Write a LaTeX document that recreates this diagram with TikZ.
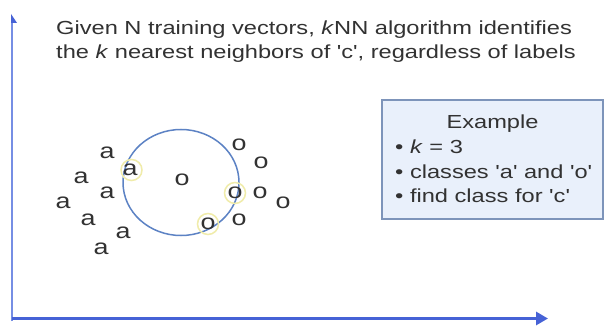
\documentclass[tikz,border=0pt]{standalone}
\usepackage{fontspec}
\newfontfamily\lfont{Liberation Sans}[FakeStretch=1.25]
\usetikzlibrary{arrows.meta,shapes.geometric}
\definecolor{axisblue}{RGB}{70,98,214}
\definecolor{axislight}{RGB}{118,142,228}
\definecolor{ringblue}{RGB}{92,130,196}
\definecolor{txt}{RGB}{50,50,50}
\definecolor{boxfill}{RGB}{233,240,251}
\definecolor{boxline}{RGB}{125,148,186}
\definecolor{hilite}{RGB}{240,236,170}
\begin{document}
\begin{tikzpicture}[x=1pt,y=-1pt,
  ttl/.style={anchor=base west, inner sep=0, font=\lfont\fontsize{18.9}{22}\selectfont, text=txt},
  pnt/.style={inner sep=0, font=\lfont\fontsize{21.5}{24}\selectfont, text=txt},
  hl/.style={draw=hilite, line width=1.5pt, circle, minimum size=21pt, inner sep=0},
  exbox/.style={draw=boxline, fill=boxfill, line width=1.5pt, minimum width=221pt, minimum height=119pt, inner sep=0}]
\useasboundingbox[fill=white] (0,0) rectangle (610,326);
% axes
\coordinate (O) at (12,318.5);
\coordinate (Ybot) at (12,321);
\coordinate (Ytop) at (12,22);
\coordinate (Xend) at (548,318.5);
\draw[axislight, line width=2pt] (Ybot) -- (Ytop);
\fill[axisblue] (11,23) -- (11,14) -- (17,23) -- cycle;
\draw[axisblue, line width=3.3pt, -{Triangle[length=12pt,width=13pt]}] (O) -- (Xend);
% title
\node[ttl] (t1) at (56,34.5) {Given N training vectors, \textit{k}NN algorithm identifies};
\node[ttl] (t2) at (56,59) {the \textit{k} nearest neighbors of 'c', regardless of labels};
% neighbourhood
\node[draw=ringblue, line width=1.5pt, ellipse, minimum width=116pt, minimum height=106pt] (nb) at (181,182.5) {};
\node[hl] (h1) at (131.5,170) {};
\node[hl] (h2) at (235,193) {};
\node[hl] (h3) at (208,224) {};
% class a
\node[pnt] (a1) at (107,153) {a};
\node[pnt] (a2) at (130,170) {a};
\node[pnt] (a3) at (81,178) {a};
\node[pnt] (a4) at (107,193) {a};
\node[pnt] (a5) at (63,203) {a};
\node[pnt] (a6) at (88,220) {a};
\node[pnt] (a7) at (123,233) {a};
\node[pnt] (a8) at (101,249) {a};
% query and class o
\node[pnt] (c) at (182,180) {o};
\node[pnt] (o1) at (239,145) {o};
\node[pnt] (o2) at (261,163) {o};
\node[pnt] (o3) at (235,193) {o};
\node[pnt] (o4) at (260,193) {o};
\node[pnt] (o5) at (283,203) {o};
\node[pnt] (o6) at (239,220) {o};
\node[pnt] (o7) at (208,224) {o};
% example box
\node[exbox] (ex) at (492.5,159.5) {};
\node[ttl, anchor=base] (exh) at (492.5,128.5) {Example};
\node[ttl] (b1) at (395,153.5) {• \textit{k} = 3};
\node[ttl] (b2) at (395,178) {• classes 'a' and 'o'};
\node[ttl] (b3) at (395,202.5) {• find class for 'c'};
\end{tikzpicture}
\end{document}
